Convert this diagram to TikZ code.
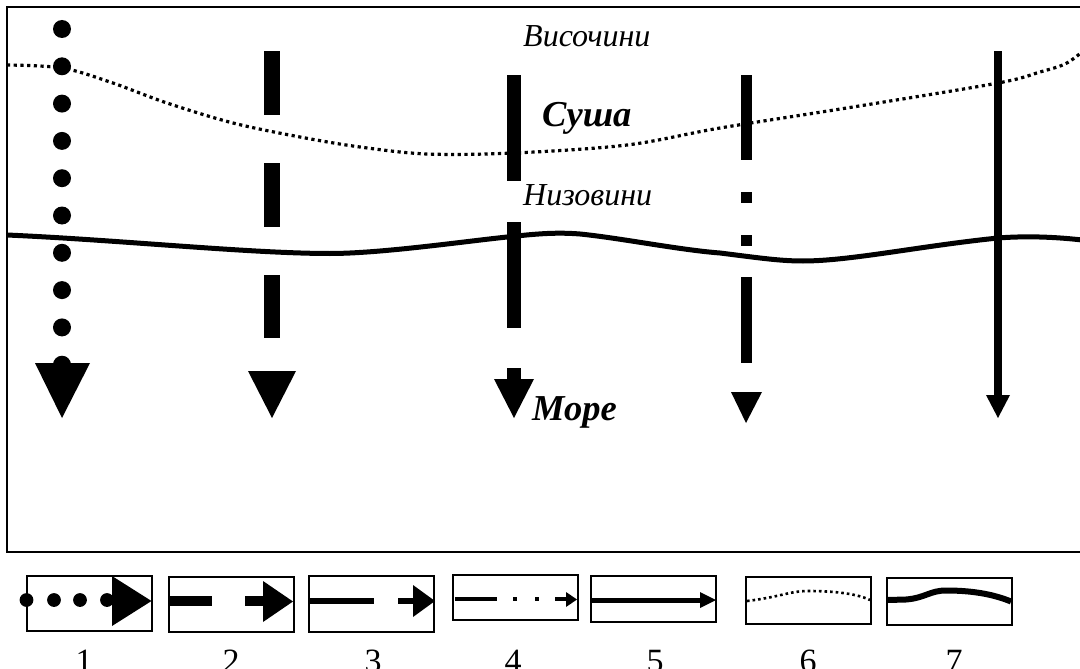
\documentclass[tikz,border=0pt]{standalone}
\usepackage{fontspec}
\setmainfont{Liberation Serif}
\begin{document}
\begin{tikzpicture}[x=1pt,y=-1pt,
  frameline/.style={line width=2pt},
  legbox/.style={draw, line width=1.8pt},
  dotcurve/.style={line width=3.2pt, dash pattern=on 3.2pt off 3.5pt},
  solidcurve/.style={line width=5pt},
  lbl/.style={inner sep=0pt, anchor=base west},
  smallit/.style={font=\fontsize{32}{34}\selectfont\itshape},
  bigbi/.style={font=\fontsize{36.5}{38}\selectfont\bfseries\itshape},
  num/.style={inner sep=0pt, anchor=base, font=\fontsize{34}{36}\selectfont}]
\clip (0,0) rectangle (1080,669);
\fill[white] (0,0) rectangle (1080,669);
% frame
\draw[frameline] (1090,7) -- (7,7) -- (7,552) -- (1090,552);
% boundary curves
\draw[dotcurve] plot[smooth, tension=0.55] coordinates {(7,65) (62,68) (110,82) (167,103) (233,123) (300,137) (360,147) (427,154) (514,153) (627,145) (720,128) (853,107) (998,83) (1040,72) (1065,64) (1082,52)};
\draw[solidcurve] (7,235) .. controls (120,240) and (250,253.5) .. (330,253.5)
  .. controls (380,253.5) and (460,242) .. (507,237)
  .. controls (535,234) and (555,232) .. (580,234)
  .. controls (620,238) and (680,250) .. (720,253)
  .. controls (760,258) and (780,261) .. (803,261)
  .. controls (850,261) and (920,246) .. (998,238)
  .. controls (1030,235.5) and (1060,237.5) .. (1082,240);
% labels
\node[lbl, smallit] (vis) at (523,47) {Височини};
\node[lbl, bigbi] (sush) at (542,127) {Суша};
\node[lbl, smallit] (niz) at (523,205) {Низовини};
\node[lbl, bigbi] (more) at (532,420) {Море};
% column 1: dotted arrow
\foreach \k in {0,...,9}{\fill (62,{29+37.3*\k}) circle (9);}
\fill (35,363) -- (90,363) -- (62,418) -- cycle;
% column 2: long dashes
\foreach \a/\b in {51/115,163/227,275/338}{\fill (264,\a) rectangle (280,\b);}
\fill (248,371) -- (296,371) -- (272,418) -- cycle;
% column 3
\foreach \a/\b in {75/181,222/328,368/380}{\fill (507,\a) rectangle (521,\b);}
\fill (494,379) -- (534,379) -- (514,418) -- cycle;
% column 4
\foreach \a/\b in {75/160,192/203,235/246,277/363}{\fill (740.5,\a) rectangle (751.5,\b);}
\fill (731,392) -- (762,392) -- (746,423) -- cycle;
% column 5
\fill (994,51) rectangle (1002,396);
\fill (986,395) -- (1010,395) -- (998,418) -- cycle;
% legend 1
\draw[legbox] (27,576) rectangle (152,631);
\foreach \x in {26.5,54,80,107}{\fill (\x,600) circle (6.9);}
\fill (112,576) -- (112,626) -- (151.5,601) -- cycle;
% legend 2
\draw[legbox] (169,577) rectangle (294,632);
\fill (170,596) rectangle (212,606);
\fill (244.5,596) rectangle (264,606);
\fill (263,581) -- (263,622) -- (293,601.5) -- cycle;
% legend 3
\draw[legbox] (309,576) rectangle (434,632);
\fill (310,598) rectangle (374,604);
\fill (398,598) rectangle (414,604);
\fill (413,585) -- (413,617) -- (435,601) -- cycle;
% legend 4
\draw[legbox] (453,575) rectangle (578,620);
\fill (455,597) rectangle (497,601);
\fill (513,597) rectangle (517,601);
\fill (535,597) rectangle (539,601);
\fill (555,597) rectangle (567,601);
\fill (566,592) -- (566,607) -- (577,599.5) -- cycle;
% legend 5
\draw[legbox] (591,576) rectangle (716,622);
\draw[line width=5pt] (592,600) -- (702,600);
\fill (700,592) -- (700,608) -- (716,600) -- cycle;
% legend 6
\draw[legbox] (746,577) rectangle (871,624);
\draw[line width=2.6pt, dash pattern=on 2.6pt off 3pt] (747,601) .. controls (780,597) and (790,591) .. (808,591) .. controls (840,591) and (860,595) .. (870,600);
% legend 7
\draw[legbox] (887,578) rectangle (1012,625);
\draw[line width=6pt] (888,600) -- (906,599.5) .. controls (925,598) and (930,590.5) .. (946,590.5) .. controls (975,590.5) and (995,595) .. (1011,601.5);
% numbers
\node[num] (n1) at (84,672) {1};
\node[num] (n2) at (231,672) {2};
\node[num] (n3) at (373,672) {3};
\node[num] (n4) at (513,672) {4};
\node[num] (n5) at (655,672) {5};
\node[num] (n6) at (808,672) {6};
\node[num] (n7) at (954,672) {7};
\end{tikzpicture}
\end{document}
